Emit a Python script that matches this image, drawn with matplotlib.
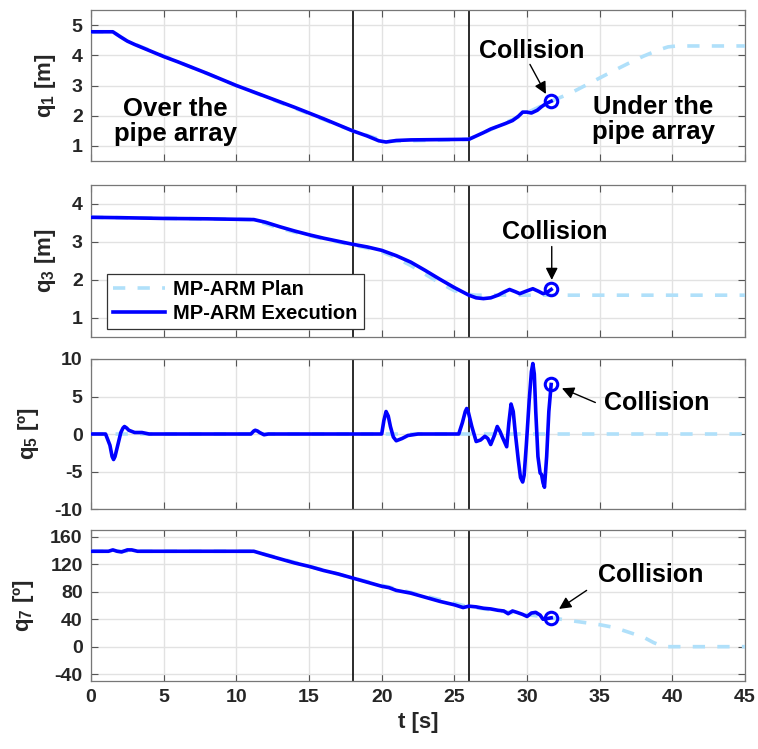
import numpy as np
import matplotlib
matplotlib.use('Agg')
import matplotlib.pyplot as plt

# ── fonts: MATLAB-ish bold Helvetica look ─────────────────────────────────
plt.rcParams['font.family'] = ['Liberation Sans', 'DejaVu Sans']
plt.rcParams['font.weight'] = 'bold'
plt.rcParams['axes.labelweight'] = 'bold'
plt.rcParams['axes.unicode_minus'] = False
plt.rcParams['mathtext.fontset'] = 'custom'
plt.rcParams['mathtext.rm'] = 'Liberation Sans:weight=bold'
plt.rcParams['mathtext.bf'] = 'Liberation Sans:weight=bold'
plt.rcParams['mathtext.default'] = 'bf'

# ── data ──────────────────────────────────────────────────────────────────
t_q1_exec = [0, 1.5, 2, 2.5, 3, 4, 5, 6, 8, 10, 12, 14, 16, 18, 19, 19.8, 20.3, 21, 22, 24, 26,
             26.5, 27, 27.5, 28, 28.5, 29, 29.4, 29.7, 30.0, 30.3, 30.7, 31.0, 31.3, 31.66]
q1_exec = [4.78, 4.78, 4.62, 4.47, 4.36, 4.16, 3.96, 3.78, 3.40, 3.00, 2.64, 2.28, 1.90, 1.50, 1.33,
           1.17, 1.13, 1.18, 1.20, 1.21, 1.22, 1.33, 1.44, 1.56, 1.65, 1.74, 1.84, 1.98, 2.12, 2.12,
           2.09, 2.18, 2.30, 2.40, 2.48]
t_q1_plan = [0, 1.5, 2.5, 10, 18, 20.3, 26, 28, 30, 31.66, 33, 34, 35, 36, 37, 38, 39, 39.7, 40.3, 45]
q1_plan = [4.78, 4.78, 4.47, 3.00, 1.50, 1.15, 1.22, 1.65, 2.10, 2.48, 2.75, 3.00, 3.25, 3.50,
           3.74, 3.97, 4.17, 4.28, 4.31, 4.31]

t_q3_exec = [0, 2, 5, 8, 11.2, 12, 13, 14, 15, 16, 17, 18, 19, 20, 21, 22, 23, 24, 25, 26, 26.5, 27,
             27.5, 28, 28.4, 28.8, 29.2, 29.5, 29.9, 30.4, 30.8, 31.1, 31.4, 31.66]
q3_exec = [3.65, 3.64, 3.62, 3.61, 3.59, 3.52, 3.40, 3.29, 3.19, 3.10, 3.02, 2.94, 2.87, 2.78, 2.64,
           2.47, 2.25, 2.02, 1.80, 1.60, 1.53, 1.51, 1.53, 1.60, 1.68, 1.75, 1.69, 1.64, 1.70, 1.77,
           1.70, 1.64, 1.68, 1.75]
t_q3_plan = [0, 11.2, 12, 13, 14, 15, 16, 17, 18, 19, 20, 21, 22, 23, 24, 25, 26, 26.5, 45]
q3_plan = [3.65, 3.59, 3.48, 3.36, 3.26, 3.17, 3.08, 3.00, 2.92, 2.84, 2.74, 2.58, 2.38, 2.15,
           1.92, 1.72, 1.62, 1.60, 1.60]

t_q5_exec = [0, 1.0, 1.3, 1.45, 1.55, 1.65, 1.8, 2.05, 2.2, 2.3, 2.45, 2.6, 3.0, 3.5, 4.0,
             11.0, 11.2, 11.3, 11.45, 11.6, 11.9, 12.2,
             20.0, 20.15, 20.3, 20.45, 20.6, 20.8, 21.0, 21.4, 21.8, 22.5,
             25.3, 25.55, 25.75, 25.85, 25.95, 26.2, 26.5, 26.8, 27.1, 27.3, 27.5, 27.75, 27.95,
             28.15, 28.3, 28.6, 28.75, 28.9, 29.05, 29.2, 29.4, 29.55, 29.7, 29.8, 29.95, 30.15,
             30.3, 30.4, 30.5, 30.6, 30.75, 30.9, 31.0, 31.1, 31.2, 31.35, 31.5, 31.66]
q5_exec = [0, 0, -1.5, -3.0, -3.4, -3.0, -1.8, 0.2, 0.8, 1.0, 0.8, 0.5, 0.2, 0.2, 0,
           0, 0.4, 0.5, 0.4, 0.2, -0.1, 0,
           0, 1.8, 3.0, 2.4, 1.0, -0.4, -0.9, -0.6, -0.2, 0,
           0, 1.5, 3.0, 3.4, 3.0, 1.0, -1.0, -0.8, -0.3, -0.6, -1.4, -0.2, 1.0,
           0.3, -0.4, -1.7, 1.5, 4.0, 3.0, 0.0, -3.5, -5.8, -6.4, -5.5, -1.5, 4.5,
           8.3, 9.4, 8.0, 3.0, -3.0, -5.2, -5.4, -6.5, -7.1, -3.0, 3.0, 6.6]
t_q5_plan = [0, 45]
q5_plan = [0, 0]

t_q7_exec = [0, 1.2, 1.5, 1.8, 2.1, 2.5, 2.8, 3.2, 11.2, 12, 13, 14, 15, 16, 17, 18, 19, 20, 20.5,
             21, 22, 23, 24, 25, 25.6, 26.0, 26.5, 27, 27.5, 28, 28.4, 28.7, 29.0, 29.3, 29.7, 30.0,
             30.3, 30.6, 30.9, 31.1, 31.4, 31.66]
q7_exec = [139, 139, 141, 139, 138, 141, 141, 139, 139, 134, 128, 122, 117, 111, 106, 100, 94, 88,
           86, 82, 78, 72, 66, 61, 57, 59, 58, 56, 55, 53, 52, 48, 52, 50, 47, 44, 49, 50, 46, 40,
           41, 42]
t_q7_plan = [0, 11.2, 18, 26, 31.66, 33, 34, 35, 36, 37, 38, 38.7, 39.3, 39.7, 45]
q7_plan = [139, 139, 100, 58, 42, 38, 35, 32, 28, 21, 14, 6, 1, 0, 0]

t_split = [18, 26]
x_ticks = [0, 5, 10, 15, 20, 25, 30, 35, 40, 45]

# panel config: (plan t, plan, exec t, exec, ylabel, ylim, yticks)
panels = [
    (t_q1_plan, q1_plan, t_q1_exec, q1_exec, r'q$_{1}$ [m]', (0.5, 5.5), [1, 2, 3, 4, 5]),
    (t_q3_plan, q3_plan, t_q3_exec, q3_exec, r'q$_{3}$ [m]', (0.5, 4.5), [1, 2, 3, 4]),
    (t_q5_plan, q5_plan, t_q5_exec, q5_exec, 'q$_{5}$ [º]', (-10, 10), [-10, -5, 0, 5, 10]),
    (t_q7_plan, q7_plan, t_q7_exec, q7_exec, 'q$_{7}$ [º]', (-50, 170),
     [-40, 0, 40, 80, 120, 160]),
]

# (text xy, arrow tail, arrow head) in data coords
collisions = [
    ((30.3, 4.14), (30.2, 3.70), (31.3, 2.72)),
    ((31.9, 3.27), (31.7, 2.88), (31.7, 2.00)),
    ((38.9, 4.1), (34.7, 4.2), (32.4, 6.1)),
    ((38.5, 105), (34.1, 82), (32.2, 55)),
]

plan_color = '#b0e0fa'
exec_color = '#0000ff'

fig = plt.figure(figsize=(7.58, 7.49), dpi=100, facecolor='white')
boxes = [(0.1201, 0.785, 0.8628, 0.2016),
         (0.1201, 0.5501, 0.8628, 0.2029),
         (0.1201, 0.3204, 0.8628, 0.2003),
         (0.1201, 0.0908, 0.8628, 0.2016)]

axes = []
for i, (tp, yp, te, ye, ylab, ylim, yt) in enumerate(panels):
    ax = fig.add_axes(boxes[i])
    axes.append(ax)
    ax.plot(tp, yp, color=plan_color, lw=2.6, linestyle=(0, (3.4, 3.4)), label='MP-ARM Plan', zorder=3)
    ax.plot(te, ye, color=exec_color, lw=2.6, label='MP-ARM Execution', zorder=4)
    ax.plot(te[-1], ye[-1], 'o', mfc='none', mec=exec_color, mew=2.2, ms=9, zorder=5)
    for ts in t_split:
        ax.axvline(ts, color='#1a1a1a', lw=1.3, zorder=2)

    ax.set_xlim(0, 45)
    ax.set_ylim(*ylim)
    ax.set_xticks(x_ticks)
    ax.set_yticks(yt)
    ax.grid(True, color='#e2e2e2', lw=1.0, zorder=0)
    ax.set_axisbelow(True)
    ax.tick_params(direction='in', length=5, width=0.8, color='#555555', top=True, right=True,
                   labelsize=14, labelcolor='#262626', pad=6)
    for sp in ax.spines.values():
        sp.set_color('#777777')
        sp.set_linewidth(0.9)
    ax.set_ylabel(ylab, fontsize=16, color='#262626', labelpad=10)
    if i < 3:
        ax.tick_params(labelbottom=False)

    txt_xy, tail, head = collisions[i]
    ax.text(*txt_xy, 'Collision', fontsize=18, ha='center', va='center', color='k', zorder=6)
    ax.annotate('', xy=head, xytext=tail,
                arrowprops=dict(arrowstyle='-|>', color='k', lw=1.0, mutation_scale=18,
                                shrinkA=0, shrinkB=0), zorder=6)

axes[0].text(5.8, 1.8, 'Over the\npipe array', fontsize=18.5, ha='center', va='center',
             linespacing=1.05, zorder=6)
axes[0].text(38.7, 1.87, 'Under the\npipe array', fontsize=18.5, ha='center', va='center',
             linespacing=1.05, zorder=6)

leg = axes[1].legend(loc='lower left', bbox_to_anchor=(0.024, 0.053), borderaxespad=0,
                     fontsize=14.5, frameon=True, fancybox=False, framealpha=1,
                     edgecolor='#333333', handlelength=2.6, borderpad=0.3, labelspacing=0.25,
                     handletextpad=0.4)
leg.get_frame().set_linewidth(0.9)
leg.set_zorder(10)

axes[3].set_xlabel('t [s]', fontsize=16, color='#262626', labelpad=4)

fig.savefig('out.png', dpi=100)
